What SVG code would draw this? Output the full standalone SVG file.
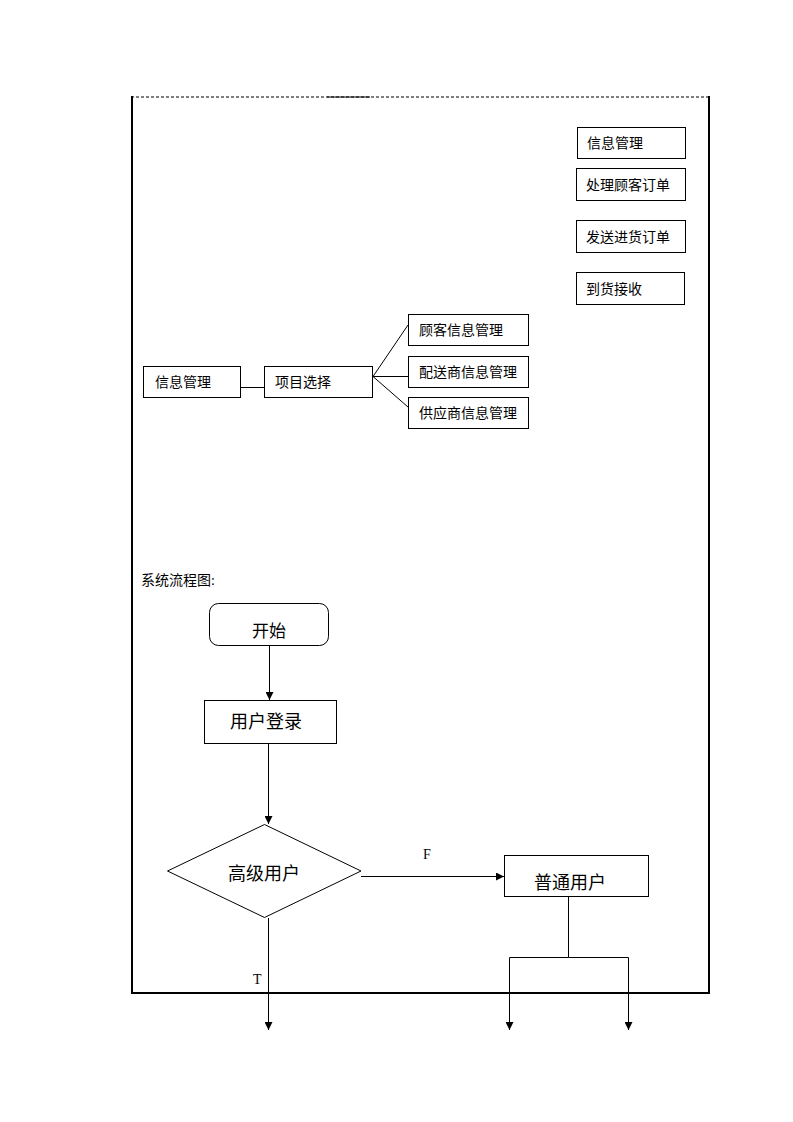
<svg xmlns="http://www.w3.org/2000/svg" width="793" height="1122" viewBox="0 0 793 1122">
<defs>
<style>
.box{fill:#fff;stroke:#000;stroke-width:1}
.ln{fill:none;stroke:#000;stroke-width:1}
.t{font-family:"Liberation Serif","Noto Sans CJK SC",serif;fill:#000}
.s{font-size:14px}
.b{font-size:18px}
</style>
<marker id="ah" viewBox="0 0 10 10" refX="10" refY="5" markerWidth="8" markerHeight="8" markerUnits="userSpaceOnUse" orient="auto">
<path d="M0,0 L10,5 L0,10 Z" fill="#000"/>
</marker>
</defs>
<rect width="793" height="1122" fill="#fff"/>
<g id="frame">
<line x1="131" y1="97" x2="709" y2="97" stroke="#000" stroke-width="1" stroke-dasharray="3,2"/>
<line x1="327" y1="97" x2="370" y2="97" stroke="#000" stroke-width="1"/>
<line x1="132" y1="96" x2="132" y2="994" stroke="#000" stroke-width="2"/>
<line x1="709" y1="96" x2="709" y2="994" stroke="#000" stroke-width="2"/>
<line x1="131" y1="993" x2="710" y2="993" stroke="#000" stroke-width="2"/>
</g>
<g id="n_xxgl_top"><rect class="box" x="577.5" y="127.5" width="108" height="31"/><text class="t s" x="587" y="148">信息管理</text></g>
<g id="n_clgkdd"><rect class="box" x="576.5" y="168.5" width="109" height="32"/><text class="t s" x="586" y="190">处理顾客订单</text></g>
<g id="n_fsjhdd"><rect class="box" x="576.5" y="220.5" width="109" height="32"/><text class="t s" x="586" y="242">发送进货订单</text></g>
<g id="n_dhjs"><rect class="box" x="576.5" y="272.5" width="108" height="32"/><text class="t s" x="586" y="294">到货接收</text></g>
<g id="n_xxgl"><rect class="box" x="143.5" y="366.5" width="97" height="31"/><text class="t s" x="155" y="387">信息管理</text></g>
<g id="n_xmxz"><rect class="box" x="264.5" y="366.5" width="108" height="31"/><text class="t s" x="275" y="387">项目选择</text></g>
<g id="n_gkxx"><rect class="box" x="408.5" y="314.5" width="120" height="31"/><text class="t s" x="419" y="335">顾客信息管理</text></g>
<g id="n_psxx"><rect class="box" x="408.5" y="356.5" width="120" height="31"/><text class="t s" x="419" y="377">配送商信息管理</text></g>
<g id="n_gyxx"><rect class="box" x="408.5" y="397.5" width="120" height="31"/><text class="t s" x="419" y="418">供应商信息管理</text></g>
<text class="t s" x="141" y="585">系统流程图:</text>
<g id="n_start"><rect class="box" x="209.5" y="603.5" width="119" height="42" rx="9"/><text class="t" font-size="17" x="269" y="637" text-anchor="middle">开始</text></g>
<g id="n_login"><rect class="box" x="204.5" y="700.5" width="132" height="43"/><text class="t b" x="266" y="728" text-anchor="middle">用户登录</text></g>
<g id="n_adv"><polygon class="box" points="264.5,824.5 361,871 264.5,917.5 167.5,871"/><text class="t b" x="264" y="880" text-anchor="middle">高级用户</text></g>
<g id="n_normal"><rect class="box" x="504.5" y="855.5" width="144" height="41"/><text class="t b" x="570" y="889" text-anchor="middle">普通用户</text></g>
<g id="connectors">
<line class="ln" x1="241" y1="387.5" x2="264" y2="387.5"/>
<polyline class="ln" points="408,325 373,376.5 408,407"/>
<line class="ln" x1="373" y1="376.5" x2="408" y2="376.5"/>
<line class="ln" x1="269.5" y1="646" x2="269.5" y2="700" marker-end="url(#ah)"/>
<line class="ln" x1="268.5" y1="744" x2="268.5" y2="824" marker-end="url(#ah)"/>
<line class="ln" x1="361" y1="876.5" x2="504" y2="876.5" marker-end="url(#ah)"/>
<line class="ln" x1="268.5" y1="918" x2="268.5" y2="1030" marker-end="url(#ah)"/>
<polyline class="ln" points="568.5,897 568.5,957.5 509.5,957.5 509.5,1030" marker-end="url(#ah)"/>
<polyline class="ln" points="568.5,957.5 628.5,957.5 628.5,1030" marker-end="url(#ah)"/>
<text class="t" font-size="14" x="423" y="859">F</text>
<text class="t" font-size="14" x="253" y="984">T</text>
</g>
</svg>
